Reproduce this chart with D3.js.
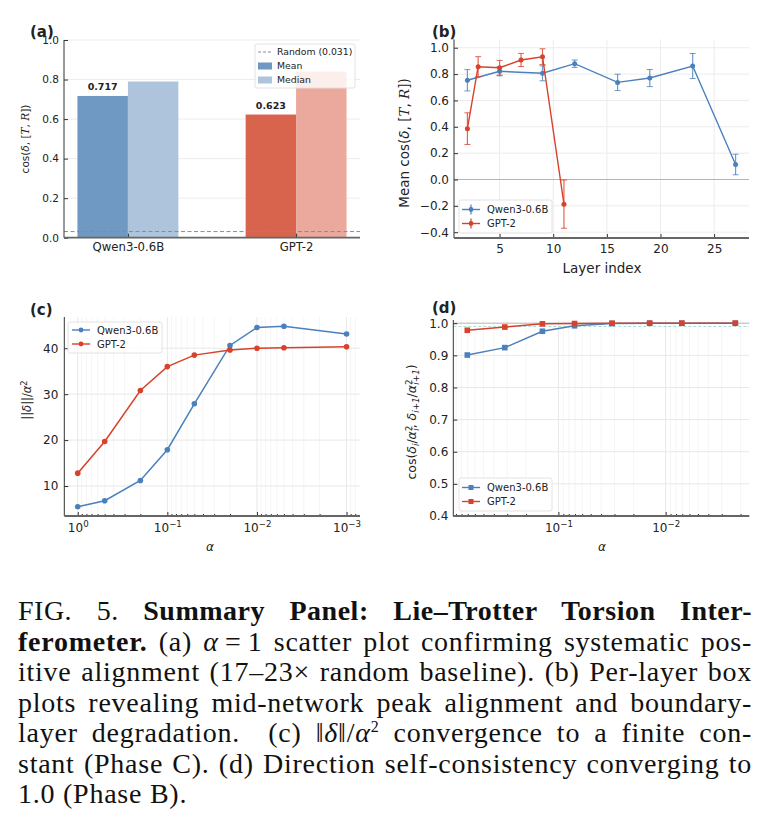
<!DOCTYPE html>
<html lang="en">
<head>
    <meta charset="UTF-8">
    <title>Summary Panel</title>
    <script src="https://cdnjs.cloudflare.com/ajax/libs/d3/7.8.5/d3.min.js"></script>
    <style>
    html, body {
        margin: 0;
        background: white;
    }

    #fig {
        position: absolute;
        left: 0;
        top: 0;
    }

    .caption {
        position: absolute;
        left: 18px;
        top: 596px;
        width: 734px;
        font-family: 'Liberation Serif', 'DejaVu Serif', serif;
        font-size: 28px;
        line-height: 30.5px;
        letter-spacing: 0.75px;
        color: #111;
    }

    .caption div {
        text-align: justify;
        text-align-last: justify;
        white-space: nowrap;
    }

    .caption div.first {
        letter-spacing: 0.5px;
    }

    .caption div.last {
        text-align-last: left;
    }

    text {
        font-family: 'DejaVu Sans', sans-serif;
        fill: #222;
    }
    </style>
</head>
<body>
    <div id="fig"></div>
    <div class="caption">
        <div class="first">FIG. 5. <b>Summary Panel: Lie–Trotter Torsion Inter-</b></div>
        <div><b>ferometer.</b> (a) <i>α</i>&thinsp;=&thinsp;1 scatter plot confirming systematic pos-</div>
        <div>itive alignment (17–23× random baseline). (b) Per-layer box</div>
        <div>plots revealing mid-network peak alignment and boundary-</div>
        <div>layer degradation. &nbsp;(c) ‖<i>δ</i>‖/<i>α</i><sup style="font-size:16px;line-height:0">2</sup> convergence to a finite con-</div>
        <div>stant (Phase C). (d) Direction self-consistency converging to</div>
        <div class="last">1.0 (Phase B).</div>
    </div>
    <script>
    // (a) alpha = 1 alignment
    var models = ['Qwen3-0.6B', 'GPT-2'];
    var meanCos = [0.717, 0.623];
    var medianCos = [0.79, 0.84];
    var randomBaseline = 0.031;

    // (b) per-layer mean cos with error bars
    var qwenLayers = [2, 5, 9, 12, 16, 19, 23, 27];
    var qwenLayerMean = [0.753, 0.821, 0.806, 0.879, 0.737, 0.770, 0.861, 0.114];
    var qwenLayerErr = [0.081, 0.034, 0.057, 0.028, 0.062, 0.065, 0.095, 0.078];
    var gptLayers = [2, 3, 5, 7, 9, 11];
    var gptLayerMean = [0.386, 0.856, 0.848, 0.907, 0.932, -0.187];
    var gptLayerErr = [0.12, 0.076, 0.056, 0.05, 0.06, 0.183];

    // (c) ||delta|| / alpha^2
    var alphas = [1, 0.5, 0.2, 0.1, 0.05, 0.02, 0.01, 0.005, 0.001];
    var qwenNorm = [5.5, 6.8, 11.2, 17.9, 27.9, 40.6, 44.5, 44.8, 43.1];
    var gptNorm = [12.8, 19.7, 30.8, 36.0, 38.5, 39.6, 40.0, 40.1, 40.3];

    // (d) direction self-consistency between consecutive alphas
    var alphaMid = [0.707, 0.316, 0.141, 0.0707, 0.0316, 0.0141, 0.00707, 0.00224];
    var qwenSelf = [0.901, 0.924, 0.975, 0.992, 0.999, 1.0, 1.0, 1.0];
    var gptSelf = [0.978, 0.988, 0.998, 0.999, 1.0, 1.0, 1.0, 1.0];

    var blue = '#4a80bd';
    var red = '#d8412b';

    var svg = d3.select('#fig')
        .append('svg')
            .attr('width', 770)
            .attr('height', 585);

    function pair(xs, ys, es) {
        return xs.map(function(x, i){
            return {x: x, y: ys[i], e: es ? es[i] : 0};
        });
    }

    function spines(g, x0, x1, y0, y1) {
        g.append('line')
            .attr('x1', x0).attr('x2', x0).attr('y1', y0).attr('y2', y1)
            .attr('stroke', '#333').attr('stroke-width', 1);
        g.append('line')
            .attr('x1', x0).attr('x2', x1).attr('y1', y0).attr('y2', y0)
            .attr('stroke', '#666').attr('stroke-width', 1.8);
    }

    function styleAxis(sel, size) {
        sel.select('.domain').remove();
        sel.selectAll('line').attr('stroke', '#333');
        sel.selectAll('text')
            .attr('font-size', size)
            .attr('fill', '#222');
    }

    function powLabels(sel) {
        sel.selectAll('.tick text').each(function(d){
            var t = d3.select(this);
            var e = Math.round(Math.log10(d));
            t.text('');
            t.append('tspan').text('10');
            t.append('tspan')
                .attr('dy', '-0.5em')
                .attr('font-size', '0.72em')
                .text(e === 0 ? '0' : '−' + Math.abs(e));
        });
    }

    function panelLabel(txt, x, y) {
        svg.append('text')
            .attr('x', x).attr('y', y)
            .attr('font-size', 15)
            .attr('font-weight', 'bold')
            .attr('fill', '#111')
            .text(txt);
    }

    function legend(x, y, w, h, rows, fontSize) {
        var g = svg.append('g').attr('transform', 'translate(' + x + ',' + y + ')');
        g.append('rect')
            .attr('width', w).attr('height', h)
            .attr('rx', 2)
            .attr('fill', 'white').attr('fill-opacity', 0.8)
            .attr('stroke', '#e2e2e2');
        rows.forEach(function(r){
            var row = g.append('g').attr('transform', 'translate(0,' + r.dy + ')');
            if (r.type === 'dash') {
                row.append('line')
                    .attr('x1', r.hx).attr('x2', r.hx + 14)
                    .attr('stroke', r.color).attr('stroke-dasharray', '3,2');
            } else if (r.type === 'patch') {
                row.append('rect')
                    .attr('x', r.hx).attr('y', -3.5)
                    .attr('width', 14).attr('height', 7)
                    .attr('fill', r.color);
            } else {
                row.append('line')
                    .attr('x1', r.hx).attr('x2', r.hx + 18)
                    .attr('stroke', r.color).attr('stroke-width', 1.4);
                if (r.type === 'err') {
                    row.append('line')
                        .attr('x1', r.hx + 9).attr('x2', r.hx + 9)
                        .attr('y1', -5).attr('y2', 5)
                        .attr('stroke', r.color).attr('stroke-width', 1.2);
                }
                if (r.type === 'square') {
                    row.append('rect')
                        .attr('x', r.hx + 6.5).attr('y', -2.5)
                        .attr('width', 5).attr('height', 5)
                        .attr('fill', r.color);
                } else {
                    row.append('circle')
                        .attr('cx', r.hx + 9).attr('r', 2.4)
                        .attr('fill', r.color);
                }
            }
            row.append('text')
                .attr('x', r.tx).attr('dy', '0.35em')
                .attr('font-size', fontSize)
                .text(r.label);
        });
    }

    // ---------------- (a) ----------------
    var xa = d3.scaleLinear().domain([-0.38, 1.38]).range([64, 360]);
    var ya = d3.scaleLinear().domain([0, 1]).range([237.7, 40]);
    var ga = svg.append('g');
    var barCols = [['#6f98c2', '#aec4dd'], ['#d9644d', '#eaa99c']];

    ga.selectAll('.grid')
        .data(d3.range(0, 1.01, 0.2))
        .enter().append('line')
        .attr('x1', 64).attr('x2', 360)
        .attr('y1', function(d){ return ya(d); })
        .attr('y2', function(d){ return ya(d); })
        .attr('stroke', '#ececec');

    ga.selectAll('.mean')
        .data(meanCos)
        .enter().append('rect')
        .attr('x', function(d, i){ return xa(i - 0.3); })
        .attr('width', xa(0.3) - xa(0))
        .attr('y', function(d){ return ya(d); })
        .attr('height', function(d){ return ya(0) - ya(d); })
        .attr('fill', function(d, i){ return barCols[i][0]; });

    ga.selectAll('.median')
        .data(medianCos)
        .enter().append('rect')
        .attr('x', function(d, i){ return xa(i); })
        .attr('width', xa(0.3) - xa(0))
        .attr('y', function(d){ return ya(d); })
        .attr('height', function(d){ return ya(0) - ya(d); })
        .attr('fill', function(d, i){ return barCols[i][1]; });

    ga.selectAll('.val')
        .data(meanCos)
        .enter().append('text')
        .attr('x', function(d, i){ return xa(i - 0.15); })
        .attr('y', function(d){ return ya(d) - 6; })
        .attr('text-anchor', 'middle')
        .attr('font-size', 9.5)
        .attr('font-weight', 'bold')
        .attr('fill', '#111')
        .text(function(d){ return d3.format('.3f')(d); });

    ga.append('line')
        .attr('x1', 64).attr('x2', 360)
        .attr('y1', ya(randomBaseline)).attr('y2', ya(randomBaseline))
        .attr('stroke', '#8a8a8a').attr('stroke-dasharray', '4,2.5');

    ga.append('g')
        .attr('transform', 'translate(64,0)')
        .call(d3.axisLeft(ya).tickValues(d3.range(0, 1.01, 0.2)).tickFormat(d3.format('.1f')).tickSize(-4).tickPadding(5))
        .call(styleAxis, 10.5);

    ga.append('g')
        .attr('transform', 'translate(0,237.7)')
        .call(d3.axisBottom(xa).tickValues([0, 1]).tickFormat(function(d){ return models[d]; }).tickSize(-4).tickPadding(5))
        .call(styleAxis, 11.7);

    spines(ga, 64, 360, 237.7, 40);

    var yla = ga.append('text')
        .attr('transform', 'translate(29,139) rotate(-90)')
        .attr('text-anchor', 'middle')
        .attr('font-size', 10.5);
    yla.append('tspan').text('cos(');
    yla.append('tspan').attr('font-style', 'italic').text('δ');
    yla.append('tspan').text(', [');
    yla.append('tspan').attr('font-family', 'DejaVu Serif').attr('font-style', 'italic').text('T');
    yla.append('tspan').text(', ');
    yla.append('tspan').attr('font-family', 'DejaVu Serif').attr('font-style', 'italic').text('R');
    yla.append('tspan').text('])');

    legend(255, 44, 100, 44, [
        {type: 'dash', color: '#8a8a8a', label: 'Random (' + randomBaseline + ')', dy: 8, hx: 3, tx: 22},
        {type: 'patch', color: barCols[0][0], label: 'Mean', dy: 22, hx: 3, tx: 22},
        {type: 'patch', color: barCols[0][1], label: 'Median', dy: 36, hx: 3, tx: 22}
    ], 9.3);
    panelLabel('(a)', 30, 37);

    // ---------------- (b) ----------------
    var xb = d3.scaleLinear().domain([0.75, 28.25]).range([454, 749]);
    var yb = d3.scaleLinear().domain([-0.444, 1.064]).range([238, 39.3]);
    var gb = svg.append('g');

    gb.selectAll('.gy')
        .data(d3.range(-0.4, 1.01, 0.2))
        .enter().append('line')
        .attr('x1', 454).attr('x2', 749)
        .attr('y1', function(d){ return yb(d); })
        .attr('y2', function(d){ return yb(d); })
        .attr('stroke', '#ececec');
    gb.selectAll('.gx')
        .data([5, 10, 15, 20, 25])
        .enter().append('line')
        .attr('x1', function(d){ return xb(d); })
        .attr('x2', function(d){ return xb(d); })
        .attr('y1', 39.3).attr('y2', 238)
        .attr('stroke', '#ececec');

    gb.append('line')
        .attr('x1', 454).attr('x2', 749)
        .attr('y1', yb(0)).attr('y2', yb(0))
        .attr('stroke', '#b5b5b5');

    var lineB = d3.line()
        .x(function(d){ return xb(d.x); })
        .y(function(d){ return yb(d.y); });

    [[pair(qwenLayers, qwenLayerMean, qwenLayerErr), blue],
     [pair(gptLayers, gptLayerMean, gptLayerErr), red]].forEach(function(s){
        var g = gb.append('g');
        g.append('path')
            .attr('d', lineB(s[0]))
            .attr('fill', 'none')
            .attr('stroke', s[1])
            .attr('stroke-width', 1.4);
        var eb = g.selectAll('.eb').data(s[0]).enter().append('g');
        eb.append('line')
            .attr('x1', function(d){ return xb(d.x); })
            .attr('x2', function(d){ return xb(d.x); })
            .attr('y1', function(d){ return yb(d.y - d.e); })
            .attr('y2', function(d){ return yb(d.y + d.e); })
            .attr('stroke', s[1]).attr('stroke-opacity', 0.8).attr('stroke-width', 1.2);
        [-1, 1].forEach(function(k){
            eb.append('line')
                .attr('x1', function(d){ return xb(d.x) - 3; })
                .attr('x2', function(d){ return xb(d.x) + 3; })
                .attr('y1', function(d){ return yb(d.y + k * d.e); })
                .attr('y2', function(d){ return yb(d.y + k * d.e); })
                .attr('stroke', s[1]).attr('stroke-opacity', 0.8).attr('stroke-width', 1);
        });
        eb.append('circle')
            .attr('cx', function(d){ return xb(d.x); })
            .attr('cy', function(d){ return yb(d.y); })
            .attr('r', 2.5)
            .attr('fill', s[1]);
    });

    gb.append('g')
        .attr('transform', 'translate(454,0)')
        .call(d3.axisLeft(yb).tickValues(d3.range(-0.4, 1.01, 0.2)).tickFormat(d3.format('.1f')).tickSize(-4).tickPadding(5))
        .call(styleAxis, 12);
    gb.append('g')
        .attr('transform', 'translate(0,238)')
        .call(d3.axisBottom(xb).tickValues([5, 10, 15, 20, 25]).tickSize(-4).tickPadding(6))
        .call(styleAxis, 12);
    spines(gb, 454, 749, 238, 39.3);

    gb.append('text')
        .attr('x', 602).attr('y', 273)
        .attr('text-anchor', 'middle')
        .attr('font-size', 13.5)
        .text('Layer index');

    var ylb = gb.append('text')
        .attr('transform', 'translate(409,143) rotate(-90)')
        .attr('text-anchor', 'middle')
        .attr('font-size', 13.5);
    ylb.append('tspan').text('Mean cos(');
    ylb.append('tspan').attr('font-style', 'italic').text('δ');
    ylb.append('tspan').text(', [');
    ylb.append('tspan').attr('font-family', 'DejaVu Serif').attr('font-style', 'italic').text('T');
    ylb.append('tspan').text(', ');
    ylb.append('tspan').attr('font-family', 'DejaVu Serif').attr('font-style', 'italic').text('R');
    ylb.append('tspan').text('])');

    legend(459, 200, 93, 33, [
        {type: 'err', color: blue, label: models[0], dy: 9.5, hx: 3, tx: 28},
        {type: 'err', color: red, label: models[1], dy: 23.5, hx: 3, tx: 28}
    ], 10);
    panelLabel('(b)', 432, 37);

    // ---------------- (c) ----------------
    var xc = d3.scaleLog().domain([Math.pow(10, 0.15), Math.pow(10, -3.15)]).range([64.3, 360]);
    var yc = d3.scaleLinear().domain([3.47, 46.8]).range([516, 317]);
    var gc = svg.append('g');
    var minorC = xc.ticks().filter(function(d){ return Math.abs(Math.log10(d) - Math.round(Math.log10(d))) > 1e-6; });

    gc.selectAll('.gm')
        .data(minorC)
        .enter().append('line')
        .attr('x1', function(d){ return xc(d); })
        .attr('x2', function(d){ return xc(d); })
        .attr('y1', 317).attr('y2', 516)
        .attr('stroke', '#f5f5f5');
    gc.selectAll('.gx')
        .data([1, 0.1, 0.01, 0.001])
        .enter().append('line')
        .attr('x1', function(d){ return xc(d); })
        .attr('x2', function(d){ return xc(d); })
        .attr('y1', 317).attr('y2', 516)
        .attr('stroke', '#e8e8e8');
    gc.selectAll('.gy')
        .data([10, 20, 30, 40])
        .enter().append('line')
        .attr('x1', 64.3).attr('x2', 360)
        .attr('y1', function(d){ return yc(d); })
        .attr('y2', function(d){ return yc(d); })
        .attr('stroke', '#e8e8e8');

    var lineC = d3.line()
        .x(function(d){ return xc(d.x); })
        .y(function(d){ return yc(d.y); });

    [[pair(alphas, qwenNorm), blue], [pair(alphas, gptNorm), red]].forEach(function(s){
        gc.append('path')
            .attr('d', lineC(s[0]))
            .attr('fill', 'none')
            .attr('stroke', s[1])
            .attr('stroke-width', 1.5);
        gc.selectAll(null).data(s[0]).enter().append('circle')
            .attr('cx', function(d){ return xc(d.x); })
            .attr('cy', function(d){ return yc(d.y); })
            .attr('r', 2.8)
            .attr('fill', s[1]);
    });

    gc.append('g')
        .attr('transform', 'translate(64.3,0)')
        .call(d3.axisLeft(yc).tickValues([10, 20, 30, 40]).tickSize(-4).tickPadding(6))
        .call(styleAxis, 12);
    gc.append('g')
        .attr('transform', 'translate(0,516)')
        .call(d3.axisBottom(xc).tickValues(minorC).tickSize(-2).tickFormat(''))
        .call(styleAxis, 12);
    gc.append('g')
        .attr('transform', 'translate(0,516)')
        .call(d3.axisBottom(xc).tickValues([1, 0.1, 0.01, 0.001]).tickSize(-4).tickPadding(7))
        .call(styleAxis, 12)
        .call(powLabels);
    spines(gc, 64.3, 360, 516, 317);

    gc.append('text')
        .attr('x', 210).attr('y', 551)
        .attr('text-anchor', 'middle')
        .attr('font-size', 12)
        .attr('font-style', 'italic')
        .text('α');

    var ylc = gc.append('text')
        .attr('transform', 'translate(31,400) rotate(-90)')
        .attr('text-anchor', 'middle')
        .attr('font-size', 11.5);
    ylc.append('tspan').text('||');
    ylc.append('tspan').attr('font-style', 'italic').text('δ');
    ylc.append('tspan').text('||/');
    ylc.append('tspan').attr('font-style', 'italic').text('α');
    ylc.append('tspan').attr('dy', '-0.45em').attr('font-size', '0.72em').text('2');

    legend(68, 322, 94, 31, [
        {type: 'circle', color: blue, label: models[0], dy: 8, hx: 4, tx: 29},
        {type: 'circle', color: red, label: models[1], dy: 22, hx: 4, tx: 29}
    ], 10);
    panelLabel('(c)', 30, 315);

    // ---------------- (d) ----------------
    var xd = d3.scaleLog().domain([Math.pow(10, -0.02), Math.pow(10, -2.78)]).range([453.3, 749.3]);
    var yd = d3.scaleLinear().domain([0.4, 1.01]).range([516, 320]);
    var gd = svg.append('g');
    var minorD = xd.ticks().filter(function(d){ return Math.abs(Math.log10(d) - Math.round(Math.log10(d))) > 1e-6; });

    gd.selectAll('.gm')
        .data(minorD)
        .enter().append('line')
        .attr('x1', function(d){ return xd(d); })
        .attr('x2', function(d){ return xd(d); })
        .attr('y1', 320).attr('y2', 516)
        .attr('stroke', '#f5f5f5');
    gd.selectAll('.gx')
        .data([0.1, 0.01])
        .enter().append('line')
        .attr('x1', function(d){ return xd(d); })
        .attr('x2', function(d){ return xd(d); })
        .attr('y1', 320).attr('y2', 516)
        .attr('stroke', '#e8e8e8');
    gd.selectAll('.gy')
        .data(d3.range(0.4, 1.01, 0.1))
        .enter().append('line')
        .attr('x1', 453.3).attr('x2', 749.3)
        .attr('y1', function(d){ return yd(d); })
        .attr('y2', function(d){ return yd(d); })
        .attr('stroke', '#e8e8e8');

    gd.append('line')
        .attr('x1', 453.3).attr('x2', 749.3)
        .attr('y1', yd(1)).attr('y2', yd(1))
        .attr('stroke', '#bdbdbd');
    gd.append('line')
        .attr('x1', 453.3).attr('x2', 749.3)
        .attr('y1', yd(0.99)).attr('y2', yd(0.99))
        .attr('stroke', '#a8dcd4')
        .attr('stroke-dasharray', '3,2');

    var lineD = d3.line()
        .x(function(d){ return xd(d.x); })
        .y(function(d){ return yd(d.y); });

    [[pair(alphaMid, qwenSelf), blue], [pair(alphaMid, gptSelf), red]].forEach(function(s){
        gd.append('path')
            .attr('d', lineD(s[0]))
            .attr('fill', 'none')
            .attr('stroke', s[1])
            .attr('stroke-width', 1.5);
        gd.selectAll(null).data(s[0]).enter().append('rect')
            .attr('x', function(d){ return xd(d.x) - 2.8; })
            .attr('y', function(d){ return yd(d.y) - 2.8; })
            .attr('width', 5.6).attr('height', 5.6)
            .attr('fill', s[1]);
    });

    gd.append('g')
        .attr('transform', 'translate(453.3,0)')
        .call(d3.axisLeft(yd).tickValues(d3.range(0.4, 1.01, 0.1)).tickFormat(d3.format('.1f')).tickSize(-4).tickPadding(5))
        .call(styleAxis, 12);
    gd.append('g')
        .attr('transform', 'translate(0,516)')
        .call(d3.axisBottom(xd).tickValues(minorD).tickSize(-2).tickFormat(''))
        .call(styleAxis, 12);
    gd.append('g')
        .attr('transform', 'translate(0,516)')
        .call(d3.axisBottom(xd).tickValues([0.1, 0.01]).tickSize(-4).tickPadding(7))
        .call(styleAxis, 12)
        .call(powLabels);
    spines(gd, 453.3, 749.3, 516, 320);

    gd.append('text')
        .attr('x', 602).attr('y', 551)
        .attr('text-anchor', 'middle')
        .attr('font-size', 12)
        .attr('font-style', 'italic')
        .text('α');

    var yld = gd.append('text')
        .attr('transform', 'translate(416,422) rotate(-90)')
        .attr('text-anchor', 'middle')
        .attr('font-size', 12.5);
    yld.append('tspan').text('cos(');
    yld.append('tspan').attr('font-style', 'italic').text('δ');
    yld.append('tspan').attr('dy', '0.3em').attr('font-size', '0.7em').attr('font-style', 'italic').text('i');
    yld.append('tspan').attr('dy', '-0.21em').text('/');
    yld.append('tspan').attr('font-style', 'italic').text('α');
    yld.append('tspan').attr('dy', '-0.45em').attr('font-size', '0.7em').text('2');
    yld.append('tspan').attr('dx', '-0.6em').attr('dy', '0.75em').attr('font-size', '0.7em').attr('font-style', 'italic').text('i');
    yld.append('tspan').attr('dy', '-0.21em').text(', ');
    yld.append('tspan').attr('font-style', 'italic').text('δ');
    yld.append('tspan').attr('dy', '0.3em').attr('font-size', '0.7em').attr('font-style', 'italic').text('i+1');
    yld.append('tspan').attr('dy', '-0.21em').text('/');
    yld.append('tspan').attr('font-style', 'italic').text('α');
    yld.append('tspan').attr('dy', '-0.45em').attr('font-size', '0.7em').text('2');
    yld.append('tspan').attr('dx', '-0.6em').attr('dy', '0.75em').attr('font-size', '0.7em').attr('font-style', 'italic').text('i+1');
    yld.append('tspan').attr('dy', '-0.21em').text(')');

    legend(459, 478, 93, 33, [
        {type: 'square', color: blue, label: models[0], dy: 9.5, hx: 3, tx: 28},
        {type: 'square', color: red, label: models[1], dy: 23.5, hx: 3, tx: 28}
    ], 10);
    panelLabel('(d)', 432, 313);
    </script>
</body>
</html>
